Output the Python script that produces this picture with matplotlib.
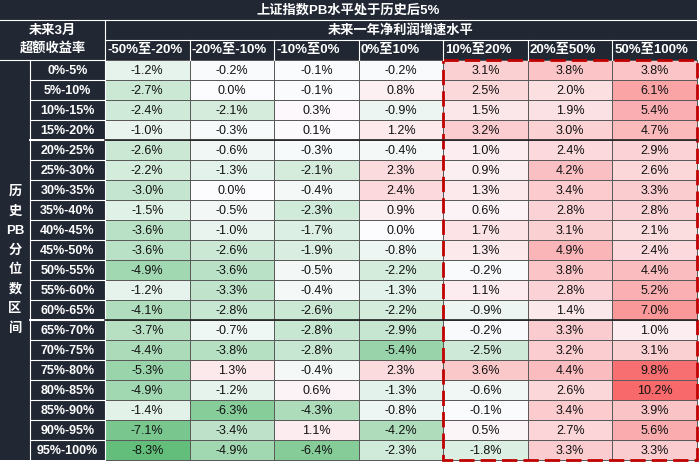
import numpy as np
import matplotlib
matplotlib.use("Agg")
import matplotlib.pyplot as plt
from matplotlib.colors import LinearSegmentedColormap, TwoSlopeNorm
from matplotlib.patches import Rectangle

plt.rcParams['font.family'] = ['Liberation Sans', 'Noto Sans CJK SC', 'DejaVu Sans']

title = '上证指数PB水平处于历史后5%'
corner_label = '未来3月\n超额收益率'
group_label = '未来一年净利润增速水平'
side_label = ['历', '史', 'PB', '分', '位', '数', '区', '间']

growth_bins = ['-50%至-20%', '-20%至-10%', '-10%至0%', '0%至10%',
               '10%至20%', '20%至50%', '50%至100%']
pb_bins = ['0%-5%', '5%-10%', '10%-15%', '15%-20%', '20%-25%', '25%-30%',
           '30%-35%', '35%-40%', '40%-45%', '45%-50%', '50%-55%', '55%-60%',
           '60%-65%', '65%-70%', '70%-75%', '75%-80%', '80%-85%', '85%-90%',
           '90%-95%', '95%-100%']

g_m50_m20 = [-1.2, -2.7, -2.4, -1.0, -2.6, -2.2, -3.0, -1.5, -3.6, -3.6,
             -4.9, -1.2, -4.1, -3.7, -4.4, -5.3, -4.9, -1.4, -7.1, -8.3]
g_m20_m10 = [-0.2, 0.0, -2.1, -0.3, -0.6, -1.3, 0.0, -0.5, -1.0, -2.6,
             -3.6, -3.3, -2.8, -0.7, -3.8, 1.3, -1.2, -6.3, -3.4, -4.9]
g_m10_0 = [-0.1, -0.1, 0.3, 0.1, -0.3, -2.1, -0.4, -2.3, -1.7, -1.9,
           -0.5, -0.4, -2.6, -2.8, -2.8, -0.4, 0.6, -4.3, 1.1, -6.4]
g_0_10 = [-0.2, 0.8, -0.9, 1.2, -0.4, 2.3, 2.4, 0.9, 0.0, -0.8,
          -2.2, -1.3, -2.2, -2.9, -5.4, 2.3, -1.3, -0.8, -4.2, -2.3]
g_10_20 = [3.1, 2.5, 1.5, 3.2, 1.0, 0.9, 1.3, 0.6, 1.7, 1.3,
           -0.2, 1.1, -0.9, -0.2, -2.5, 3.6, -0.6, -0.1, 0.5, -1.8]
g_20_50 = [3.8, 2.0, 1.9, 3.0, 2.4, 4.2, 3.4, 2.8, 3.1, 4.9,
           3.8, 2.8, 1.4, 3.3, 3.2, 4.4, 2.6, 3.4, 2.7, 3.3]
g_50_100 = [3.8, 6.1, 5.4, 4.7, 2.9, 2.6, 3.3, 2.8, 2.1, 2.4,
            4.4, 5.2, 7.0, 1.0, 3.1, 9.8, 10.2, 3.9, 5.6, 3.3]

values = np.array([g_m50_m20, g_m20_m10, g_m10_0, g_0_10,
                   g_10_20, g_20_50, g_50_100]).T

DARK = '#212834'
W, H = 700, 463
left0, left1, right = 30, 105, 697
top_data, row_h = 60, 20

fig = plt.figure(figsize=(7, 4.63), dpi=100)
ax = fig.add_axes([0, 0, 1, 1])
ax.set_xlim(0, W)
ax.set_ylim(H, 0)
ax.axis('off')

n_rows, n_cols = values.shape
x_edges = np.linspace(left1, right, n_cols + 1)
y_edges = top_data + np.arange(n_rows + 1) * row_h
bottom = y_edges[-1]

cmap = LinearSegmentedColormap.from_list('ryg', ['#63BE7B', '#FCFCFF', '#F8696B'])
norm = TwoSlopeNorm(vmin=values.min(), vcenter=0, vmax=values.max())
ax.pcolormesh(x_edges, y_edges, values, cmap=cmap, norm=norm,
              edgecolors='#5a5a5a', linewidth=0.6)

# header blocks
ax.add_patch(Rectangle((0, 0), right, top_data, color=DARK, lw=0))
ax.add_patch(Rectangle((0, top_data), left1, bottom - top_data, color=DARK, lw=0))
ax.plot([0, right], [19.5, 19.5], color='white', lw=0.8)
ax.plot([left1, right], [40, 40], color='white', lw=0.8)
ax.plot([left1, left1], [19.5, bottom], color='white', lw=0.8)
for xe in x_edges[1:-1]:
    ax.plot([xe, xe], [40, top_data], color='white', lw=0.8)
ax.plot([0, left1], [top_data, top_data], color='white', lw=0.8)
ax.plot([left0, left0], [top_data, bottom], color='white', lw=0.8)
for ye in y_edges[1:-1]:
    ax.plot([left0, left1], [ye, ye], color='white', lw=0.8)
# heavier separators
for k in (4, 13):
    ax.plot([left0, left1], [y_edges[k], y_edges[k]], color='white', lw=1.4)
    ax.plot([left1, right], [y_edges[k], y_edges[k]], color='#222222', lw=1.2)

hdr = dict(color='white', fontweight='bold', fontsize=9.5)
ax.text(right / 2, 10, title, ha='center', va='center', **hdr)
ax.text(left1 / 2, 40, corner_label, ha='center', va='center',
        linespacing=1.55, **hdr)
ax.text((left1 + right) / 2, 30, group_label, ha='center', va='center', **hdr)
for j, name in enumerate(growth_bins):
    ax.text(x_edges[j] + 2, 50.5, name, ha='left', va='center', **hdr)

mid = (top_data + bottom) / 2
for k, ch in enumerate(side_label):
    ax.text(left0 / 2, mid + (k - (len(side_label) - 1) / 2) * 19.5, ch,
            ha='center', va='center', **hdr)

for i, name in enumerate(pb_bins):
    yc = (y_edges[i] + y_edges[i + 1]) / 2
    ax.text((left0 + left1) / 2, yc + 0.5, name, ha='center', va='center',
            color='white', fontweight='bold', fontsize=9)
    for j in range(n_cols):
        xc = (x_edges[j] + x_edges[j + 1]) / 2
        ax.text(xc, yc + 0.5, f'{values[i, j]:.1f}%', ha='center', va='center',
                color='#111111', fontsize=9)

ax.add_patch(Rectangle((x_edges[4], top_data), right - x_edges[4], bottom - top_data,
                       fill=False, edgecolor='#c00000', lw=2.0,
                       linestyle=(0, (5.5, 2.2))))

fig.savefig('out.png', dpi=100)
